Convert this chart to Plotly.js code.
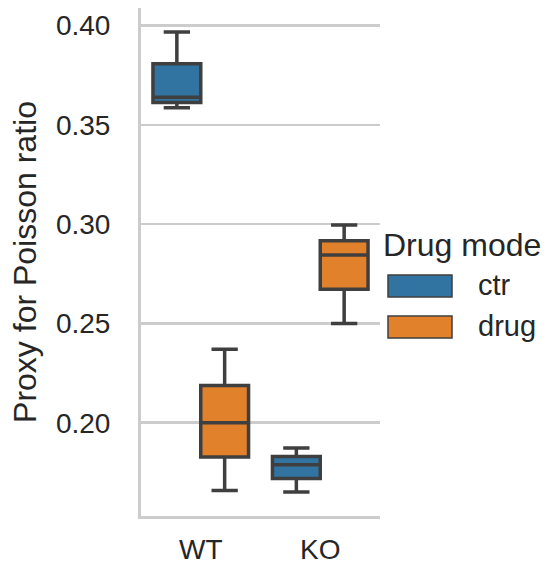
<!DOCTYPE html>
<html>
<head>
<meta charset="utf-8">
<script src="https://cdn.plot.ly/plotly-3.0.1.min.js"></script>
<style>html,body{margin:0;padding:0;background:#fff;}#chart{width:551px;height:567px;}</style>
</head>
<body>
<div id="chart"></div>
<script>
// Categories and hue levels
const categories = ['WT', 'KO'];
const hueLevels = ['ctr', 'drug'];
const legendTitle = 'Drug mode';
const yTitle = 'Proxy for Poisson ratio';
const yTicks = [0.20, 0.25, 0.30, 0.35, 0.40];
const yTickLabels = ['0.20', '0.25', '0.30', '0.35', '0.40'];

// Box statistics per hue (order follows categories)
const ctrLower  = [0.3587, 0.1651];
const ctrQ1     = [0.3613, 0.1719];
const ctrMedian = [0.3640, 0.1788];
const ctrQ3     = [0.3808, 0.1830];
const ctrUpper  = [0.3968, 0.1872];

const drugLower  = [0.1659, 0.2500];
const drugQ1     = [0.1827, 0.2672];
const drugMedian = [0.2000, 0.2845];
const drugQ3     = [0.2188, 0.2917];
const drugUpper  = [0.2370, 0.2996];

const colors = {ctr: '#3274a1', drug: '#e1812c'};
const edge = '#3f3f3f';
const txt = '#262626';
const FONT = 'Liberation Sans, Arial, sans-serif';

function boxTrace(name, lower, q1, med, q3, upper) {
  return {
    type: 'box', name: name, x: categories,
    lowerfence: lower, q1: q1, median: med, q3: q3, upperfence: upper,
    fillcolor: colors[name], line: {color: edge, width: 3.5},
    whiskerwidth: 0.55, boxpoints: false, showlegend: false,
    hoverinfo: 'skip'
  };
}

const data = [
  boxTrace('ctr', ctrLower, ctrQ1, ctrMedian, ctrQ3, ctrUpper),
  boxTrace('drug', drugLower, drugQ1, drugMedian, drugQ3, drugUpper)
];

// Plot area in pixels: left 141, right 380, top 8, bottom 516
const L = 141, R = 380, T = 8, B = 516, W = 551, H = 567;
const px = x => (x - L) / (R - L);
const py = y => (B - y) / (B - T);

const shapes = [];
const annotations = [];
annotations.push({xref: 'paper', yref: 'paper', x: px(381), y: py(245), xanchor: 'left', yanchor: 'middle',
  text: legendTitle, showarrow: false, font: {family: FONT, size: 32, color: txt}});
const patchY = [[275, 297], [316, 338]];
hueLevels.forEach((h, i) => {
  shapes.push({type: 'rect', xref: 'paper', yref: 'paper', x0: px(388), x1: px(452),
    y0: py(patchY[i][1]), y1: py(patchY[i][0]), fillcolor: colors[h], line: {color: edge, width: 1.5}});
  annotations.push({xref: 'paper', yref: 'paper', x: px(476), y: py((patchY[i][0] + patchY[i][1]) / 2 - 1),
    xanchor: 'left', yanchor: 'middle', text: h, showarrow: false,
    font: {family: FONT, size: 29, color: txt}});
});

const layout = {
  width: W, height: H,
  margin: {l: L, r: W - R, t: T, b: H - B, pad: 0},
  paper_bgcolor: '#fff', plot_bgcolor: '#fff',
  font: {family: FONT, size: 28, color: txt},
  boxmode: 'group', boxgap: 0.2, boxgroupgap: 0,
  showlegend: false,
  xaxis: {type: 'category', range: [-0.5, 1.5], showgrid: false, zeroline: false,
    showline: true, linecolor: '#cccccc', linewidth: 3,
    ticks: 'outside', ticklen: 6, tickcolor: 'rgba(0,0,0,0)',
    tickfont: {family: FONT, size: 28, color: txt}},
  yaxis: {range: [0.1530, 0.4089], tickvals: yTicks, ticktext: yTickLabels,
    showgrid: true, gridcolor: '#cccccc', gridwidth: 2.5, zeroline: false,
    showline: true, linecolor: '#cccccc', linewidth: 3,
    ticks: 'outside', ticklen: 22, tickcolor: 'rgba(0,0,0,0)',
    tickfont: {family: FONT, size: 28, color: txt},
    title: {text: yTitle, font: {family: FONT, size: 32, color: txt}, standoff: 10}},
  shapes: shapes,
  annotations: annotations
};

Plotly.newPlot('chart', data, layout, {staticPlot: true, displayModeBar: false});
</script>
</body>
</html>
